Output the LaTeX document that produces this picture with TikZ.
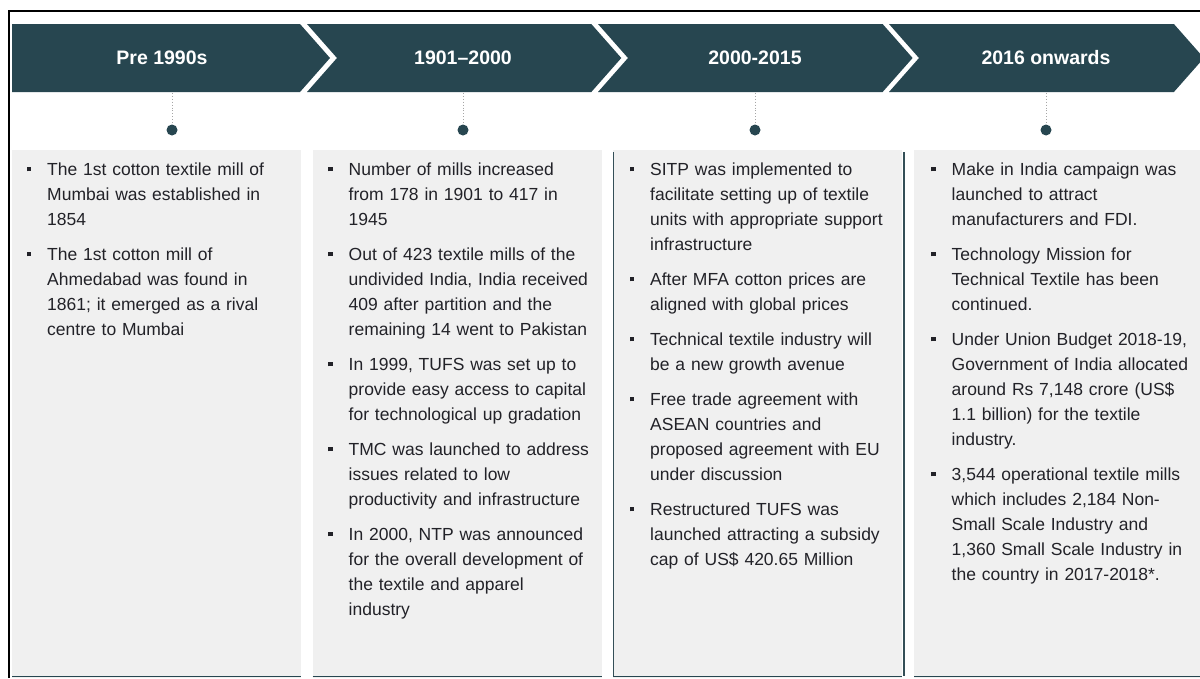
\documentclass[tikz,border=0pt]{standalone}
\usepackage{fontspec}
\setmainfont{Liberation Sans}
\usepackage{enumitem}
\usetikzlibrary{positioning}
\definecolor{slate}{RGB}{39,70,80}
\definecolor{panel}{RGB}{240,240,240}
\definecolor{ink}{RGB}{34,34,40}
\newcommand{\sqbullet}{\raisebox{3.8pt}{\rule{4.5pt}{4.5pt}}}
\newlist{facts}{itemize}{1}
\setlist[facts]{label=\sqbullet, leftmargin=21pt, labelwidth=5pt, labelsep=16pt, topsep=0pt, partopsep=0pt, itemsep=10pt, parsep=0pt}
\tikzset{
chevron/.style={fill=slate, draw=none}, period/.style={text=white, inner sep=0, font=\fontsize{19.5}{22}\selectfont\bfseries}, milestone/.style={circle, fill=slate, minimum size=11pt, inner sep=0}, stem/.style={draw=gray!70, dotted, line width=0.9pt}, panelbox/.style={fill=panel, draw=none}, factcol/.style={anchor=north west, inner sep=0, text width=262pt, align=left, text=ink, font=\fontsize{17.5}{25}\selectfont}}

\begin{document}
\begin{tikzpicture}[x=1pt, y=-1pt]
\useasboundingbox (0,0) rectangle (1200,678);
\fill[white] (0,0) rectangle (1200,678);
\draw[black, line width=1.6pt] (9,678) -- (9,11) -- (1200,11);
% header chevrons
\foreach \k/\l/\n/\tx/\lbl in {0/12/0/162/{Pre 1990s}, 1/307/30/463/{1901–2000}, 2/598/30/755/{2000-2015}, 3/889/30/1046/{2016 onwards}} {
  \pgfmathsetmacro\r{300+291.3*\k}
  \fill[chevron] (\l,24) -- (\r,24) -- (\r+30,58) -- (\r,92) -- (\l,92) -- (\l+\n,58) -- cycle;
  \node [period] (h\k) at (\tx,58) {\lbl};
}
% panels
\foreach \k in {0,...,3} {
  \pgfmathsetmacro\pl{12+300.7*\k}
  \fill[panelbox] (\pl,150) rectangle (\pl+289,678);
  \draw[slate, line width=1.6pt] (\pl,676.5) -- (\pl+289,676.5);
}
\draw[slate!85!gray, line width=1.3pt] (613.5,152) -- (613.5,676);
\draw[slate!85!gray, line width=1.3pt] (904,152) -- (904,676);
% milestones
\foreach \k/\dx in {0/172, 1/463, 2/755, 3/1046} {
  \coordinate (t\k) at (\dx,93);
  \node [milestone] (d\k) at (\dx,130) {};
  \draw[stem] (t\k) -- (d\k);
}
% column texts
\node [factcol] (c0) at (26,150) {\begin{facts}
\item The 1st cotton textile mill of\newline Mumbai was established in\newline 1854
\item The 1st cotton mill of\newline Ahmedabad was found in\newline 1861; it emerged as a rival\newline centre to Mumbai
\end{facts}};
\node [factcol] (c1) at (327.5,150) {\begin{facts}
\item Number of mills increased\newline from 178 in 1901 to 417 in\newline 1945
\item Out of 423 textile mills of the\newline undivided India, India received\newline 409 after partition and the\newline remaining 14 went to Pakistan
\item In 1999, TUFS was set up to\newline provide easy access to capital\newline for technological up gradation
\item TMC was launched to address\newline issues related to low\newline productivity and infrastructure
\item In 2000, NTP was announced\newline for the overall development of\newline the textile and apparel\newline industry
\end{facts}};
\node [factcol] (c2) at (629,150) {\begin{facts}
\item SITP was implemented to\newline facilitate setting up of textile\newline units with appropriate support\newline infrastructure
\item After MFA cotton prices are\newline aligned with global prices
\item Technical textile industry will\newline be a new growth avenue
\item Free trade agreement with\newline ASEAN countries and\newline proposed agreement with EU\newline under discussion
\item Restructured TUFS was\newline launched attracting a subsidy\newline cap of US\$ 420.65 Million
\end{facts}};
\node [factcol] (c3) at (930.5,150) {\begin{facts}
\item Make in India campaign was\newline launched to attract\newline manufacturers and FDI.
\item Technology Mission for\newline Technical Textile has been\newline continued.
\item Under Union Budget 2018-19,\newline Government of India allocated\newline around Rs 7,148 crore (US\$\newline 1.1 billion) for the textile\newline industry.
\item 3,544 operational textile mills\newline which includes 2,184 Non-\newline Small Scale Industry and\newline 1,360 Small Scale Industry in\newline the country in 2017-2018*.
\end{facts}};
\end{tikzpicture}
\end{document}
